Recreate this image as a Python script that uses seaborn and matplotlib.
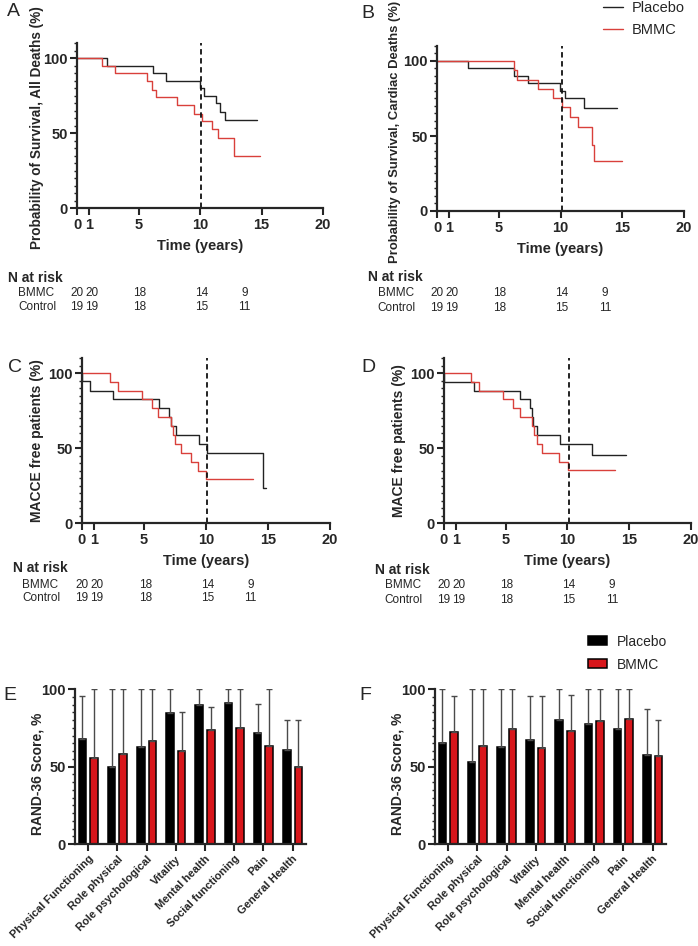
import numpy as np
import pandas as pd
import matplotlib
matplotlib.use('Agg')
import matplotlib.pyplot as plt
import matplotlib.transforms as mtransforms
from matplotlib.ticker import MultipleLocator
import seaborn as sns

# ---- Kaplan-Meier curves (years, % event free) ----
a_placebo_t = [0, 2.44, 6.18, 7.26, 9.97, 10.3, 11.3, 11.65, 12.0, 14.6]
a_placebo_s = [100, 95, 90, 85, 80, 75, 70, 64, 58.5, 58.5]
a_bmmc_t = [0, 2.06, 3.06, 5.72, 6.12, 6.45, 8.16, 9.5, 10.2, 10.95, 11.46, 12.74, 14.9]
a_bmmc_s = [100, 95, 90, 85, 79, 74, 68.5, 63, 58, 52.5, 47, 35, 35]

b_placebo_t = [0, 2.5, 6.2, 7.33, 9.97, 10.4, 11.94, 14.6]
b_placebo_s = [100, 95, 90, 85, 80, 75, 68.5, 68.5]
b_bmmc_t = [0, 6.2, 6.47, 8.2, 9.43, 10.16, 10.78, 11.43, 12.56, 12.72, 14.96]
b_bmmc_s = [100, 94, 87.5, 81, 75, 69, 62.5, 56, 44, 33.5, 33.5]

c_placebo_t = [0, 0.03, 0.62, 2.5, 6.19, 7.05, 7.2, 7.6, 9.4, 10.1, 14.6, 14.8]
c_placebo_s = [100, 94.5, 88, 82.5, 77, 71, 65, 59, 53, 47, 23.5, 23.5]
c_bmmc_t = [0, 2.23, 2.9, 4.87, 5.65, 6.14, 7.2, 7.35, 7.5, 8.0, 8.8, 9.37, 10.04, 13.8]
c_bmmc_s = [100, 94, 88, 82.5, 76.5, 70.5, 64.5, 59, 53, 47, 41, 35, 29.5, 29.5]

d_placebo_t = [0, 0.03, 2.43, 6.16, 6.97, 7.1, 7.19, 7.5, 9.4, 11.97, 14.7]
d_placebo_s = [100, 94, 88, 82.5, 76.5, 70.5, 64.5, 59, 53, 45.5, 45.5]
d_bmmc_t = [0, 2.19, 2.86, 4.8, 5.6, 6.16, 7.16, 7.3, 7.57, 7.97, 9.3, 10.08, 13.86]
d_bmmc_s = [100, 94, 88, 82.5, 76.5, 70.5, 64.5, 59, 53, 47, 41, 35.5, 35.5]

cutoff_year = 10.1

risk_bmmc = ['20', '20', '18', '14', '9']
risk_control = ['19', '19', '18', '15', '11']

# ---- RAND-36 ----
domains = ['Physical Functioning', 'Role physical', 'Role psychological', 'Vitality',
           'Mental health', 'Social functioning', 'Pain', 'General Health']
e_placebo = [67.5, 49.8, 62.6, 84.6, 89.6, 90.9, 71.6, 60.6]
e_placebo_hi = [95.2, 100, 100, 100, 100, 100, 90.5, 80]
e_bmmc = [55.6, 57.8, 66.5, 60.2, 73.6, 74.9, 63.2, 49.8]
e_bmmc_hi = [100, 100, 100, 85.3, 88.1, 100, 100, 80]

f_placebo = [65.4, 52.8, 62.8, 66.9, 80.1, 77.3, 74.0, 57.4]
f_placebo_hi = [100, 100, 100, 95.2, 100, 100, 100, 87.4]
f_bmmc = [72.5, 63.4, 74.0, 62.1, 72.9, 79.4, 80.7, 56.5]
f_bmmc_hi = [95.2, 100, 100, 95.2, 96.3, 100, 100, 80]

W, H = 698, 946
LINE_COLORS = {'Placebo': '#222222', 'BMMC': '#d9403b'}
BAR_COLORS = {'Placebo': '#000000', 'BMMC': '#d8161b'}

sns.set_theme(style='ticks')
plt.rcParams['font.family'] = ['Liberation Sans', 'DejaVu Sans']
plt.rcParams['axes.linewidth'] = 1.6
plt.rcParams['xtick.major.width'] = 1.5
plt.rcParams['ytick.major.width'] = 1.5
plt.rcParams['ytick.minor.width'] = 1.0
plt.rcParams['xtick.major.size'] = 5
plt.rcParams['ytick.major.size'] = 5
plt.rcParams['ytick.minor.size'] = 2.5
plt.rcParams['xtick.major.pad'] = 2
plt.rcParams['ytick.major.pad'] = 1.5

fig = plt.figure(figsize=(W / 100, H / 100), dpi=100)


def rect(l, t, r, b):
    return [l / W, 1 - b / H, (r - l) / W, (b - t) / H]


def panel_letter(letter, x, y):
    fig.text(x / W, 1 - y / H, letter, fontsize=14, ha='center', va='center')


def km_frame(pt, ps, bt, bs):
    rows = [('Placebo', t, s) for t, s in zip(pt, ps)]
    rows += [('BMMC', t, s) for t, s in zip(bt, bs)]
    return pd.DataFrame(rows, columns=['group', 'time', 'surv'])


def km_panel(box, ylabel, frame, ylab_x, tab_y, legend=False, ylab_size=10, ylab_y=0.5):
    ax = fig.add_axes(rect(*box))
    sns.lineplot(data=frame, x='time', y='surv', hue='group',
                 hue_order=['Placebo', 'BMMC'], palette=LINE_COLORS,
                 estimator=None, errorbar=None, drawstyle='steps-post',
                 linewidth=1.0, legend=legend, ax=ax)
    ax.axvline(cutoff_year, color='#111111', linestyle=(0, (3, 2)), linewidth=1.3)
    ax.set_xlim(0, 20)
    ax.set_ylim(0, 110)
    ax.set_xticks([0, 1, 5, 10, 15, 20])
    ax.set_yticks([0, 50, 100])
    ax.yaxis.set_minor_locator(MultipleLocator(5))
    for lab in ax.get_xticklabels() + ax.get_yticklabels():
        lab.set_fontweight('bold')
        lab.set_fontsize(10.5)
    ax.set_xlabel('Time (years)', fontsize=10.5, fontweight='bold')
    ax.xaxis.set_label_coords(0.5, -0.19)
    ax.set_ylabel(ylabel, fontsize=ylab_size, fontweight='bold')
    ax.yaxis.set_label_coords(ylab_x, ylab_y)
    sns.despine(ax=ax)
    # N at risk table
    tr = mtransforms.blended_transform_factory(ax.transData, ax.transAxes)
    n_y, b_y, c_y = tab_y
    ax.text(-5.6, n_y, 'N at risk', transform=tr, fontsize=10,
            fontweight='bold', ha='left', va='center', clip_on=False)
    ax.text(-4.8, b_y, 'BMMC', transform=tr, fontsize=8.5, ha='left',
            va='center', clip_on=False)
    ax.text(-4.8, c_y, 'Control', transform=tr, fontsize=8.5, ha='left',
            va='center', clip_on=False)
    for xc, nb, nc in zip([0, 1.2, 5.1, 10.1, 13.6], risk_bmmc, risk_control):
        ax.text(xc, b_y, nb, transform=tr, fontsize=8.5, ha='center',
                va='center', clip_on=False)
        ax.text(xc, c_y, nc, transform=tr, fontsize=8.5, ha='center',
                va='center', clip_on=False)
    return ax


axA = km_panel((77, 43, 323, 208), 'Probability of Survival, All Deaths (%)',
               km_frame(a_placebo_t, a_placebo_s, a_bmmc_t, a_bmmc_s),
               -0.134, (-0.424, -0.515, -0.6), ylab_size=9.8, ylab_y=0.49)
axB = km_panel((437, 46, 684, 211), 'Probability of Survival, Cardiac Deaths (%)',
               km_frame(b_placebo_t, b_placebo_s, b_bmmc_t, b_bmmc_s),
               -0.146, (-0.40, -0.497, -0.588), legend=True, ylab_size=9.4,
               ylab_y=0.48)
sns.move_legend(axB, 'upper left', bbox_to_anchor=(0.672, 1.275), frameon=False,
                title=None, fontsize=10.5, handlelength=1.4, handletextpad=0.6,
                labelspacing=0.6, borderpad=0, borderaxespad=0)
for ln in axB.get_legend().get_lines():
    ln.set_linewidth(1.0)
axC = km_panel((82, 358, 330, 523), 'MACCE free patients (%)',
               km_frame(c_placebo_t, c_placebo_s, c_bmmc_t, c_bmmc_s),
               -0.153, (-0.273, -0.376, -0.455))
axD = km_panel((444, 358, 691, 523), 'MACE free patients (%)',
               km_frame(d_placebo_t, d_placebo_s, d_bmmc_t, d_bmmc_s),
               -0.154, (-0.285, -0.376, -0.467))


def bar_panel(box, placebo, placebo_hi, bmmc, bmmc_hi, legend=False):
    ax = fig.add_axes(rect(*box))
    frame = pd.DataFrame({
        'domain': domains * 2,
        'group': ['Placebo'] * len(domains) + ['BMMC'] * len(domains),
        'score': placebo + bmmc,
    })
    sns.barplot(data=frame, x='domain', y='score', hue='group',
                hue_order=['Placebo', 'BMMC'], palette=BAR_COLORS,
                order=domains, width=0.8, gap=0.35, edgecolor='black',
                linewidth=1.1, saturation=1, errorbar=None, legend=legend, ax=ax)
    for cont, vals, hi in zip(ax.containers, [placebo, bmmc], [placebo_hi, bmmc_hi]):
        xs = [p.get_x() + p.get_width() / 2 for p in cont.patches]
        vals = np.array(vals)
        up = np.array(hi) - vals
        ax.errorbar(xs, vals, yerr=[np.zeros_like(up), up], fmt='none',
                    ecolor='#4a4a4a', elinewidth=1.0, capsize=2, capthick=1.0,
                    zorder=1)
    ax.set_xlim(-0.45, 7.46)
    ax.set_ylim(0, 100)
    ax.set_yticks([0, 50, 100])
    ax.yaxis.set_minor_locator(MultipleLocator(5))
    ax.set_xlabel('')
    ax.set_xticks(range(len(domains)))
    ax.set_xticklabels(domains, rotation=45, ha='right', rotation_mode='anchor',
                       fontsize=8, fontweight='bold')
    for lab in ax.get_yticklabels():
        lab.set_fontweight('bold')
        lab.set_fontsize(10.5)
    ax.set_ylabel('RAND-36 Score, %', fontsize=10, fontweight='bold')
    ax.yaxis.set_label_coords(-0.134, 0.45)
    sns.despine(ax=ax)
    return ax


axE = bar_panel((75, 689, 306, 844), e_placebo, e_placebo_hi, e_bmmc, e_bmmc_hi)
axF = bar_panel((435, 689, 666, 844), f_placebo, f_placebo_hi, f_bmmc, f_bmmc_hi,
                legend=True)
sns.move_legend(axF, 'upper left', bbox_to_anchor=(0.662, 1.35), frameon=False,
                title=None, fontsize=10, handlelength=1.4, handleheight=0.6,
                handletextpad=0.7, labelspacing=0.65, borderpad=0, borderaxespad=0)

panel_letter('A', 13, 12)
panel_letter('B', 368, 13)
panel_letter('C', 15, 367)
panel_letter('D', 368, 367)
panel_letter('E', 10, 695)
panel_letter('F', 365, 695)

fig.savefig('out.png', dpi=100)
